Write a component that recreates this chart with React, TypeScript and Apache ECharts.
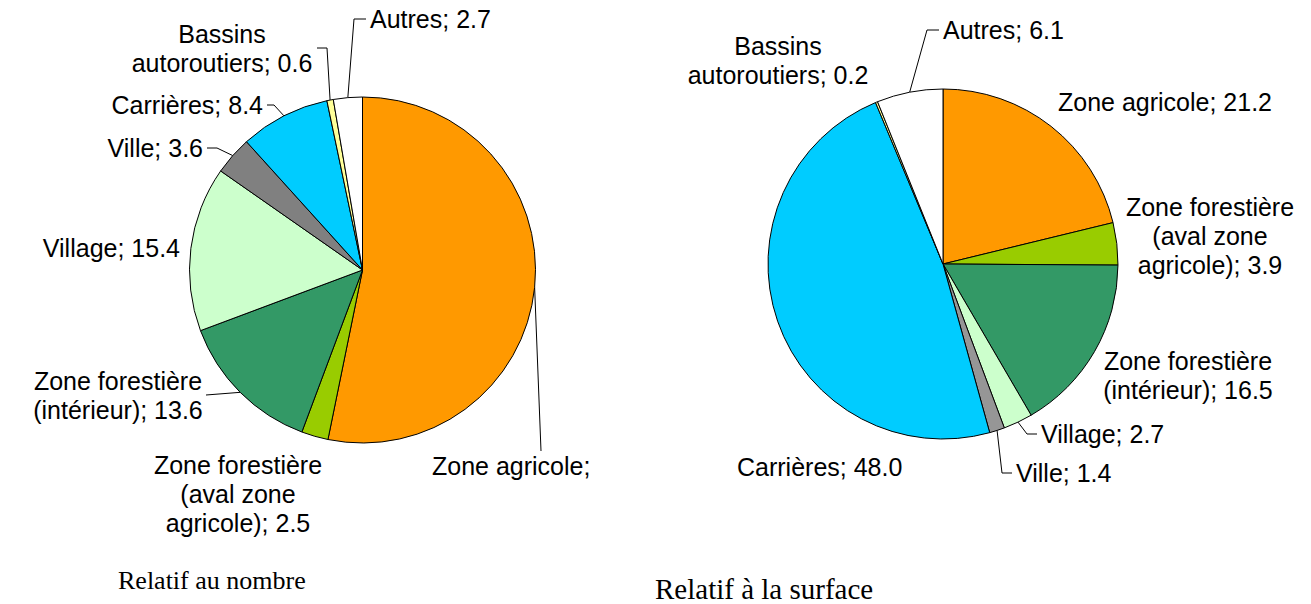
import React, { useEffect, useRef } from "react";
import * as echarts from "echarts";

// ---- Data ----
const categories = [
  "Zone agricole",
  "Zone forestière (aval zone agricole)",
  "Zone forestière (intérieur)",
  "Village",
  "Ville",
  "Carrières",
  "Bassins autoroutiers",
  "Autres",
];

const countValues = [53.2, 2.5, 13.6, 15.4, 3.6, 8.4, 0.6, 2.7];
const surfaceValues = [21.2, 3.9, 16.5, 2.7, 1.4, 48.0, 0.2, 6.1];

// label templates ({v} is replaced by the value)
const countLabelTemplates = [
  "Zone agricole;",
  "Zone forestière\n(aval zone\nagricole); {v}",
  "Zone forestière\n(intérieur); {v}",
  "Village; {v}",
  "Ville; {v}",
  "Carrières; {v}",
  "Bassins\nautoroutiers; {v}",
  "Autres; {v}",
];
const surfaceLabelTemplates = [
  "Zone agricole; {v}",
  "Zone forestière\n(aval zone\nagricole); {v}",
  "Zone forestière\n(intérieur); {v}",
  "Village; {v}",
  "Ville; {v}",
  "Carrières; {v}",
  "Bassins\nautoroutiers; {v}",
  "Autres; {v}",
];

const captions = ["Relatif au nombre", "Relatif à la surface"];

const countColors = ["#FF9900", "#99CC00", "#339966", "#CCFFCC", "#808080", "#00CCFF", "#FFFF99", "#FFFFFF"];
const surfaceColors = ["#FF9900", "#99CC00", "#339966", "#CCFFCC", "#969696", "#00CCFF", "#FFFF99", "#FFFFFF"];

// ---- Layout (positions of labels, not data) ----
type LabelPos = { x: number; y: number; align: string; bend?: number[]; end?: number[] };

const countLabelPos: LabelPos[] = [
  { x: 432, y: 466, align: "left", bend: [541, 451], end: [541, 451] },
  { x: 238, y: 494, align: "center" },
  { x: 118, y: 395, align: "center", bend: [206, 395], end: [206, 395] },
  { x: 180, y: 248, align: "right" },
  { x: 203, y: 148, align: "right", bend: [217, 148], end: [207, 148] },
  { x: 263, y: 105, align: "right", bend: [274, 105], end: [267, 105] },
  { x: 222, y: 48, align: "center", bend: [327, 48], end: [317, 48] },
  { x: 370, y: 19, align: "left", bend: [354, 19], end: [366, 19] },
];

const surfaceLabelPos: LabelPos[] = [
  { x: 1058, y: 102, align: "left" },
  { x: 1210, y: 236, align: "center" },
  { x: 1188, y: 375, align: "center" },
  { x: 1041, y: 434, align: "left", bend: [1027, 434], end: [1037, 434] },
  { x: 1016, y: 473, align: "left", bend: [1002, 473], end: [1012, 473] },
  { x: 737, y: 467, align: "left" },
  { x: 778, y: 60, align: "center" },
  { x: 943, y: 30, align: "left", bend: [927, 30], end: [939, 30] },
];

const FONT = "'Liberation Sans', Arial, Helvetica, sans-serif";

function buildSeries(
  values: number[],
  colors: string[],
  templates: string[],
  pos: LabelPos[],
  center: number[],
  radius: number
) {
  return {
    type: "pie",
    center,
    radius,
    startAngle: 90,
    clockwise: true,
    avoidLabelOverlap: false,
    silent: true,
    minShowLabelAngle: 0,
    itemStyle: { borderColor: "#000", borderWidth: 1 },
    label: {
      show: true,
      position: "outside",
      color: "#000",
      fontFamily: FONT,
      fontSize: 25,
      lineHeight: 29,
      formatter: (p: any) => templates[p.dataIndex].replace("{v}", Number(p.value).toFixed(1)),
    },
    labelLine: {
      show: true,
      length: 10,
      length2: 10,
      lineStyle: { color: "#000", width: 1 },
    },
    labelLayout: (params: any) => {
      const c = pos[params.dataIndex];
      const res: any = { x: c.x, y: c.y, align: c.align, verticalAlign: "middle" };
      if (c.end && params.labelLinePoints) {
        res.labelLinePoints = [params.labelLinePoints[0], c.bend, c.end];
      }
      return res;
    },
    data: values.map((v, i) => ({
      value: v,
      name: categories[i],
      itemStyle: { color: colors[i] },
      labelLine: { show: !!pos[i].end },
    })),
  };
}

export default function App() {
  const ref = useRef<HTMLDivElement>(null);
  useEffect(() => {
    document.body.style.margin = "0";
    if (!ref.current) return;
    const chart = echarts.init(ref.current, undefined, { renderer: "svg" });
    chart.setOption({
      animation: false,
      backgroundColor: "#fff",
      series: [
        buildSeries(countValues, countColors, countLabelTemplates, countLabelPos, [362.5, 270], 173),
        buildSeries(surfaceValues, surfaceColors, surfaceLabelTemplates, surfaceLabelPos, [943, 264], 175),
      ],
      graphic: [
        {
          type: "text",
          left: 118,
          top: 567,
          style: { text: captions[0], font: "26px 'Liberation Serif', 'Times New Roman', serif", fill: "#000" },
        },
        {
          type: "text",
          left: 655,
          top: 574,
          style: { text: captions[1], font: "29px 'Liberation Serif', 'Times New Roman', serif", fill: "#000" },
        },
      ],
    });
    return () => chart.dispose();
  }, []);
  return <div ref={ref} style={{ width: 1311, height: 604 }} />;
}
